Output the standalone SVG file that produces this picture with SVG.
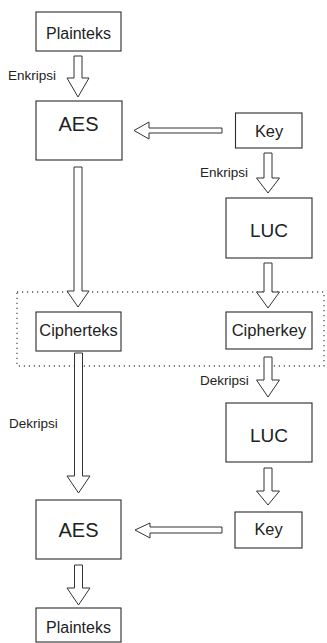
<svg xmlns="http://www.w3.org/2000/svg" width="327" height="643" viewBox="0 0 327 643">
<style>
.box{fill:#fff;stroke:#2a2a2a;stroke-width:1.1}
.arr{fill:#fff;stroke:#333;stroke-width:1}
.t{font-family:"Liberation Sans",Arial,sans-serif;fill:#222;text-anchor:middle}
.lbl{font-family:"Liberation Sans",Arial,sans-serif;fill:#222;font-size:13.5px}
.dot{fill:none;stroke:#555;stroke-width:1.3;stroke-dasharray:1.2 3.8}
</style>
<rect width="327" height="643" fill="#fff"/>
<rect id="group-boundary" class="dot" x="17" y="292" width="307" height="74"/>
<g id="connectors">
<polygon class="arr" points="74,56 82,56 82,78 89,78 78,97 67,78 74,78"/>
<polygon class="arr" points="74,167 82,167 82,291 89,291 78,307 67,291 74,291"/>
<polygon class="arr" points="74.5,353 82.5,353 82.5,476 90,476 78.5,493 67,476 74.5,476"/>
<polygon class="arr" points="74.5,565 82.5,565 82.5,588 90,588 78.5,605 67,588 74.5,588"/>
<polygon class="arr" points="264,153 272,153 272,178 279.5,178 268,193 256.5,178 264,178"/>
<polygon class="arr" points="264,263 272,263 272,292 279.5,292 268,308 256.5,292 264,292"/>
<polygon class="arr" points="264,357 272,357 272,380 279.5,380 268,397 256.5,380 264,380"/>
<polygon class="arr" points="264,468 272,468 272,491 279.5,491 268,505 256.5,491 264,491"/>
<polygon class="arr" points="222,128 222,133 149,133 149,139 134,130.5 149,122 149,128"/>
<polygon class="arr" points="222,527 222,533 150,533 150,538 135,530 150,523 150,527"/>
</g>
<text class="lbl" x="8" y="80">Enkripsi</text>
<text class="lbl" x="200" y="177">Enkripsi</text>
<text class="lbl" x="9" y="428">Dekripsi</text>
<text class="lbl" x="200" y="385">Dekripsi</text>
<g id="plainteks1"><rect class="box" x="36" y="12" width="85" height="39"/><text class="t" x="78.5" y="38.5" font-size="16">Plainteks</text></g>
<g id="aes1"><rect class="box" x="36" y="101" width="86" height="59"/><text class="t" x="78.5" y="131" font-size="20">AES</text></g>
<g id="key1"><rect class="box" x="235.5" y="113" width="66.5" height="35"/><text class="t" x="269" y="136.5" font-size="16.4">Key</text></g>
<g id="luc1"><rect class="box" x="226" y="198" width="86" height="60"/><text class="t" x="269" y="236.7" font-size="19">LUC</text></g>
<g id="cipherteks"><rect class="box" x="36" y="312" width="85" height="39"/><text class="t" x="78.5" y="335.5" font-size="16.4">Cipherteks</text></g>
<g id="cipherkey"><rect class="box" x="226" y="312" width="86" height="37"/><text class="t" x="269" y="336" font-size="16.6">Cipherkey</text></g>
<g id="luc2"><rect class="box" x="226" y="403" width="86" height="59"/><text class="t" x="269" y="441.5" font-size="19">LUC</text></g>
<g id="key2"><rect class="box" x="235" y="512" width="67" height="36"/><text class="t" x="268.5" y="535" font-size="16.4">Key</text></g>
<g id="aes2"><rect class="box" x="36" y="500" width="85" height="59"/><text class="t" x="78.5" y="537" font-size="20">AES</text></g>
<g id="plainteks2"><rect class="box" x="36" y="608" width="85" height="34"/><text class="t" x="78.5" y="633" font-size="16">Plainteks</text></g>
</svg>
